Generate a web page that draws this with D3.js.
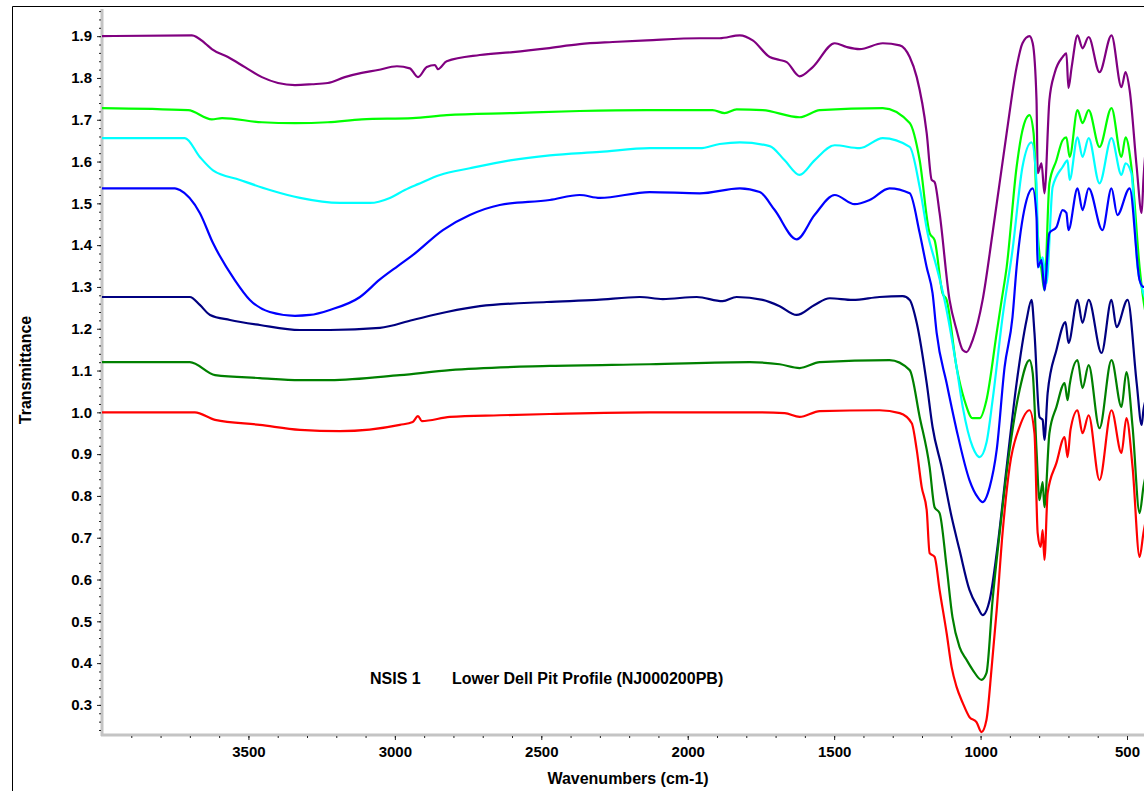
<!DOCTYPE html>
<html>
<head>
<meta charset="utf-8">
<script src="https://cdn.jsdelivr.net/npm/d3@7/dist/d3.min.js"></script>
<style>
body { margin: 0; background: #fff; }
svg text { font-family: "Liberation Sans", Arial, sans-serif; font-weight: bold; fill: #000; }
</style>
</head>
<body>
<svg class="chart"></svg>
<script>
/* FTIR spectra, wavenumber (cm-1) vs transmittance, offset traces */
const purpleSpectrum = [[4000,1.900],[3693,1.902],[3648,1.883],[3625,1.869],[3570,1.850],[3512,1.826],[3454,1.802],[3399,1.788],[3341,1.783],[3283,1.785],[3229,1.788],[3171,1.802],[3113,1.812],[3058,1.819],[2993,1.828],[2949,1.823],[2921,1.802],[2891,1.826],[2863,1.831],[2853,1.821],[2823,1.840],[2710,1.855],[2597,1.862],[2481,1.871],[2369,1.881],[2256,1.886],[2140,1.890],[1959,1.895],[1891,1.895],[1822,1.902],[1778,1.890],[1720,1.850],[1686,1.843],[1662,1.838],[1618,1.804],[1573,1.826],[1498,1.883],[1457,1.874],[1413,1.869],[1334,1.883],[1276,1.878],[1242,1.850],[1218,1.802],[1184,1.668],[1167,1.556],[1157,1.551],[1140,1.477],[1106,1.269],[1082,1.197],[1061,1.149],[1048,1.144],[1027,1.173],[993,1.269],[959,1.429],[911,1.668],[877,1.826],[857,1.883],[833,1.900],[822,1.883],[809,1.747],[805,1.572],[792,1.596],[782,1.524],[765,1.747],[747,1.812],[720,1.850],[707,1.859],[700,1.776],[689,1.826],[669,1.902],[652,1.871],[631,1.898],[594,1.814],[553,1.902],[519,1.778],[505,1.814],[491,1.771],[467,1.587],[450,1.477],[444,1.556],[425,1.700]]

const limeSpectrum = [[4000,1.728],[3706,1.723],[3625,1.701],[3590,1.704],[3454,1.694],[3341,1.692],[3229,1.694],[3113,1.701],[2939,1.704],[2823,1.711],[2597,1.716],[2369,1.721],[2140,1.723],[1915,1.723],[1874,1.716],[1833,1.725],[1744,1.723],[1618,1.706],[1549,1.723],[1334,1.728],[1242,1.692],[1208,1.603],[1174,1.429],[1157,1.412],[1130,1.285],[1116,1.269],[1082,1.108],[1055,1.029],[1027,0.986],[1003,0.986],[980,1.029],[945,1.190],[928,1.269],[911,1.347],[877,1.587],[857,1.675],[833,1.711],[819,1.668],[805,1.429],[792,1.340],[782,1.292],[765,1.548],[741,1.603],[720,1.651],[707,1.658],[696,1.611],[669,1.723],[652,1.692],[631,1.723],[594,1.635],[553,1.728],[519,1.611],[505,1.658],[485,1.587],[457,1.347],[444,1.269],[425,1.200]]

const cyanSpectrum = [[4000,1.656],[3717,1.656],[3666,1.611],[3621,1.579],[3529,1.556],[3427,1.532],[3324,1.513],[3188,1.501],[3085,1.501],[3017,1.513],[2966,1.532],[2921,1.546],[2846,1.568],[2744,1.584],[2607,1.603],[2471,1.615],[2300,1.623],[2130,1.632],[1959,1.632],[1891,1.642],[1822,1.646],[1720,1.637],[1669,1.603],[1618,1.568],[1567,1.603],[1498,1.639],[1413,1.632],[1334,1.656],[1242,1.635],[1208,1.539],[1181,1.429],[1150,1.347],[1123,1.269],[1082,1.108],[1061,1.013],[1027,0.917],[1003,0.893],[980,0.927],[959,1.029],[925,1.228],[891,1.388],[857,1.587],[826,1.646],[809,1.548],[802,1.347],[788,1.371],[775,1.309],[754,1.539],[720,1.587],[703,1.603],[696,1.556],[669,1.658],[652,1.611],[631,1.656],[594,1.548],[553,1.656],[519,1.568],[505,1.596],[485,1.572],[464,1.347],[450,1.300],[425,1.250]]

const blueSpectrum = [[4000,1.536],[3751,1.536],[3734,1.532],[3666,1.477],[3621,1.405],[3546,1.316],[3495,1.269],[3427,1.240],[3341,1.231],[3290,1.233],[3222,1.245],[3119,1.276],[3051,1.318],[2990,1.350],[2939,1.376],[2836,1.436],[2744,1.472],[2642,1.496],[2471,1.508],[2369,1.520],[2300,1.513],[2130,1.527],[1959,1.524],[1822,1.536],[1754,1.527],[1703,1.484],[1628,1.414],[1567,1.472],[1498,1.520],[1430,1.498],[1379,1.508],[1311,1.536],[1242,1.524],[1208,1.429],[1184,1.347],[1164,1.285],[1150,1.190],[1116,1.070],[1082,0.958],[1038,0.838],[1010,0.797],[993,0.785],[969,0.821],[945,0.910],[918,1.108],[891,1.228],[877,1.347],[843,1.508],[822,1.536],[809,1.467],[805,1.347],[792,1.364],[782,1.292],[765,1.429],[741,1.443],[720,1.484],[707,1.477],[700,1.436],[669,1.536],[652,1.484],[631,1.536],[584,1.436],[553,1.536],[533,1.472],[491,1.536],[457,1.316],[444,1.300],[425,1.330]]

const navySpectrum = [[4000,1.276],[3700,1.276],[3666,1.257],[3631,1.233],[3563,1.221],[3461,1.209],[3324,1.197],[3222,1.197],[3051,1.202],[2939,1.221],[2823,1.240],[2710,1.254],[2481,1.264],[2311,1.269],[2164,1.276],[2085,1.271],[1969,1.276],[1881,1.266],[1833,1.276],[1744,1.269],[1686,1.254],[1628,1.233],[1567,1.257],[1515,1.273],[1437,1.269],[1345,1.276],[1266,1.278],[1242,1.269],[1218,1.214],[1184,1.070],[1164,0.965],[1133,0.869],[1099,0.750],[1072,0.671],[1038,0.575],[1010,0.534],[993,0.515],[969,0.551],[945,0.663],[911,0.869],[877,1.070],[843,1.221],[826,1.269],[816,1.190],[799,0.989],[788,0.982],[782,0.934],[771,1.046],[741,1.149],[710,1.216],[700,1.166],[669,1.269],[652,1.214],[631,1.269],[587,1.142],[553,1.269],[536,1.204],[498,1.269],[467,1.070],[450,0.970],[444,1.005],[425,1.050]]

const greenSpectrum = [[4000,1.120],[3700,1.120],[3614,1.089],[3461,1.082],[3324,1.077],[3222,1.077],[2983,1.089],[2812,1.101],[2471,1.111],[2130,1.115],[1788,1.120],[1686,1.115],[1618,1.106],[1549,1.120],[1311,1.125],[1242,1.101],[1208,0.989],[1174,0.869],[1157,0.773],[1140,0.759],[1116,0.630],[1096,0.510],[1072,0.439],[1048,0.408],[1027,0.384],[997,0.360],[980,0.376],[959,0.551],[935,0.711],[901,0.910],[867,1.053],[833,1.125],[822,1.094],[809,0.910],[799,0.790],[788,0.833],[782,0.773],[765,0.950],[741,1.013],[713,1.070],[703,1.029],[696,1.065],[669,1.125],[652,1.058],[631,1.113],[594,0.962],[553,1.125],[519,1.013],[502,1.096],[481,0.965],[457,0.759],[444,0.821],[425,0.880]]

const redSpectrum = [[4000,1.000],[3683,1.000],[3614,0.982],[3461,0.970],[3324,0.958],[3188,0.955],[2983,0.970],[2939,0.977],[2921,0.991],[2908,0.979],[2812,0.989],[2642,0.993],[2471,0.996],[2130,1.000],[1788,1.000],[1669,0.998],[1618,0.989],[1549,1.003],[1345,1.005],[1276,0.998],[1235,0.974],[1218,0.910],[1201,0.821],[1184,0.766],[1174,0.663],[1157,0.654],[1140,0.575],[1116,0.472],[1099,0.391],[1082,0.343],[1061,0.305],[1038,0.271],[1014,0.259],[997,0.235],[980,0.264],[962,0.391],[945,0.527],[925,0.711],[901,0.869],[867,0.965],[833,1.005],[816,0.950],[805,0.711],[795,0.678],[788,0.718],[782,0.647],[771,0.807],[741,0.879],[713,0.941],[703,0.893],[693,0.958],[669,1.005],[652,0.950],[631,0.993],[594,0.838],[553,1.005],[519,0.903],[502,0.986],[481,0.869],[457,0.654],[444,0.711],[425,0.780]]

const spectra = [purpleSpectrum, limeSpectrum, cyanSpectrum, blueSpectrum, navySpectrum, greenSpectrum, redSpectrum]
const spectrumColors = ["#800080", "#00ff00", "#00ffff", "#0000ff", "#000080", "#008000", "#ff0000"]

const xMajorTicks = [3500, 3000, 2500, 2000, 1500, 1000, 500]
const yMajorTicks = [0.3, 0.4, 0.5, 0.6, 0.7, 0.8, 0.9, 1.0, 1.1, 1.2, 1.3, 1.4, 1.5, 1.6, 1.7, 1.8, 1.9]
const xMinorTicks = d3.range(3900, 400, -100)
const yMinorTicks = d3.range(0.24, 1.97, 0.02)

const plotTitleParts = ["NSIS 1", "Lower Dell Pit Profile (NJ000200PB)"]
const xTitle = "Wavenumbers (cm-1)"
const yTitle = "Transmittance"

const width = 1144, height = 791
const plotLeft = 102, plotBottom = 735, plotTop = 9

const x = d3.scaleLinear().domain([4000, 442]).range([plotLeft, width])
const y = d3.scaleLinear().domain([0.228, 1.965]).range([plotBottom, plotTop])

const svg = d3.select("svg.chart")
    .attr("width", width)
    .attr("height", height)

// outer frame (only top and left edges visible)
svg.append("path")
    .attr("d", `M12.5,${height} V6.5 H${width}`)
    .attr("fill", "none")
    .attr("stroke", "#000")
    .attr("stroke-width", 1)

// axis lines
svg.append("line")
    .attr("x1", plotLeft).attr("x2", plotLeft)
    .attr("y1", plotTop).attr("y2", plotBottom + 1)
    .attr("stroke", "#c4c4c4").attr("stroke-width", 3)
svg.append("line")
    .attr("x1", plotLeft - 1).attr("x2", width)
    .attr("y1", plotBottom).attr("y2", plotBottom)
    .attr("stroke", "#c4c4c4").attr("stroke-width", 3)

// minor ticks
svg.append("g")
    .attr("transform", `translate(0,${plotBottom + 1})`)
    .call(d3.axisBottom(x).tickValues(xMinorTicks).tickSize(2).tickFormat(""))
    .call(g => g.select(".domain").remove())
svg.append("g")
    .attr("transform", `translate(${plotLeft - 1},0)`)
    .call(d3.axisLeft(y).tickValues(yMinorTicks).tickSize(2).tickFormat(""))
    .call(g => g.select(".domain").remove())

// major ticks with labels
const xAxis = svg.append("g")
    .attr("transform", `translate(0,${plotBottom + 1})`)
    .call(d3.axisBottom(x).tickValues(xMajorTicks).tickSize(4).tickPadding(6).tickFormat(d3.format("d")))
    .call(g => g.select(".domain").remove())
xAxis.attr("font-family", null).attr("font-size", 15)

const yAxis = svg.append("g")
    .attr("transform", `translate(${plotLeft - 1},0)`)
    .call(d3.axisLeft(y).tickValues(yMajorTicks).tickSize(4).tickPadding(5).tickFormat(d3.format(".1f")))
    .call(g => g.select(".domain").remove())
yAxis.attr("font-family", null).attr("font-size", 15)

svg.selectAll(".tick line").attr("stroke", "#222")

// spectra
const line = d3.line()
    .x(d => x(d[0]))
    .y(d => y(d[1]))
    .curve(d3.curveMonotoneX)

svg.append("g")
    .selectAll("path")
    .data(spectra)
    .enter()
    .append("path")
    .attr("d", line)
    .attr("fill", "none")
    .attr("stroke", (d, i) => spectrumColors[i])
    .attr("stroke-width", 2.2)
    .attr("stroke-linejoin", "round")

// titles
const title = svg.append("text")
    .attr("y", 684)
    .attr("font-size", 16)
title.append("tspan").attr("x", 370).text(plotTitleParts[0])
title.append("tspan").attr("x", 452).text(plotTitleParts[1])

svg.append("text")
    .attr("x", 628)
    .attr("y", 784)
    .attr("text-anchor", "middle")
    .attr("font-size", 16)
    .text(xTitle)

svg.append("text")
    .attr("transform", "translate(31,370) rotate(-90)")
    .attr("text-anchor", "middle")
    .attr("font-size", 16)
    .text(yTitle)
</script>
</body>
</html>
